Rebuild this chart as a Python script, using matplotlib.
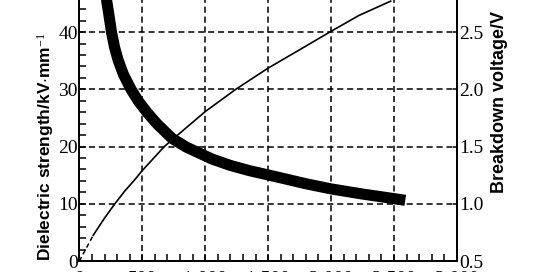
import matplotlib
matplotlib.use("Agg")
import matplotlib.pyplot as plt
from matplotlib.ticker import MultipleLocator

# thickness values
thick_x = [195, 216, 232, 255, 280, 308, 350, 410, 470, 540, 620, 738, 850,
           1056, 1200, 1349, 1587, 1800, 2000, 2250, 2500, 2590]
strength = [47.5, 45.6, 43.4, 40, 37.3, 35.1, 32.6, 30, 27.9, 25.9, 23.9, 21.4,
            19.9, 17.8, 16.7, 15.8, 14.6, 13.5, 12.6, 11.7, 10.9, 10.6]

volt_x = [0, 110, 200, 282, 360, 440, 500, 675, 850, 1000, 1243, 1500, 1750,
          1990, 2222, 2474]
voltage = [0.5, 0.725, 0.875, 1.0, 1.11, 1.21, 1.29, 1.5, 1.665, 1.805, 2.0,
           2.185, 2.345, 2.5, 2.645, 2.77]
n_dash = 2  # first segment of the voltage curve is dashed

xticks = [0, 500, 1000, 1500, 2000, 2500, 3000]
xlabels = ["0", "500", "1 000", "1 500", "2 000", "2 500", "3 000"]
left_ticks = [0, 10, 20, 30, 40]
right_ticks = [0.5, 1.0, 1.5, 2.0, 2.5]

serif = "Liberation Serif"
sans = "Liberation Sans"
plt.rcParams["mathtext.fontset"] = "custom"
plt.rcParams["mathtext.rm"] = serif
plt.rcParams["mathtext.it"] = serif

fig = plt.figure(figsize=(5.4, 2.72), dpi=100)
ax1 = fig.add_axes([0.147, 0.0404, 0.699, 0.9596])
ax2 = ax1.twinx()

ax1.set_xlim(0, 3000)
ax1.set_ylim(0, 45.6)
ax2.set_ylim(0.5, 0.5 + 45.6 / 20)

# dashed grid
for v in xticks[1:-1]:
    ax1.axvline(v, color="black", lw=1.1, ls=(0, (4, 2.5)), zorder=1)
for v in left_ticks[1:]:
    ax1.axhline(v, color="black", lw=1.1, ls=(0, (4, 2.5)), zorder=1)

ax1.plot(thick_x, strength, color="black", lw=8, solid_capstyle="butt",
         solid_joinstyle="round", zorder=3)
ax2.plot(volt_x[:n_dash], voltage[:n_dash], color="black", lw=1.1, ls=(0, (3, 2)))
ax2.plot(volt_x[n_dash - 1:], voltage[n_dash - 1:], color="black", lw=1.2,
         solid_joinstyle="round")

for a in (ax1, ax2):
    a.spines["top"].set_visible(False)
    for s in a.spines.values():
        s.set_linewidth(1.3)

ax1.set_xticks(xticks)
ax1.set_xticklabels(xlabels, family=serif, fontsize=14)
ax1.xaxis.set_minor_locator(MultipleLocator(100))
ax1.set_yticks(left_ticks)
ax1.set_yticklabels([str(t) for t in left_ticks], family=serif, fontsize=14)
ax1.yaxis.set_minor_locator(MultipleLocator(2))
ax1.tick_params(which="both", direction="in", top=False, right=False, width=1.1)
ax1.tick_params(axis="x", which="both", length=5, pad=7)
ax1.tick_params(axis="y", which="both", length=5, pad=1)

ax2.set_yticks(right_ticks)
ax2.set_yticklabels(["%.1f" % t for t in right_ticks], family=serif, fontsize=14)
ax2.tick_params(axis="y", direction="in", length=3, pad=2, width=1.1)

ax1.set_ylabel("Dielectric strength/kV$\\cdot$mm$^{-1}$", family=sans,
               fontsize=12.5, fontweight="bold", labelpad=2)
ax1.yaxis.label.set_y(0.44)
ax2.set_ylabel("Breakdown voltage/V", family=sans, fontsize=13,
               fontweight="bold", labelpad=5)
ax2.yaxis.label.set_y(0.61)

fig.savefig("out.png", dpi=100)
